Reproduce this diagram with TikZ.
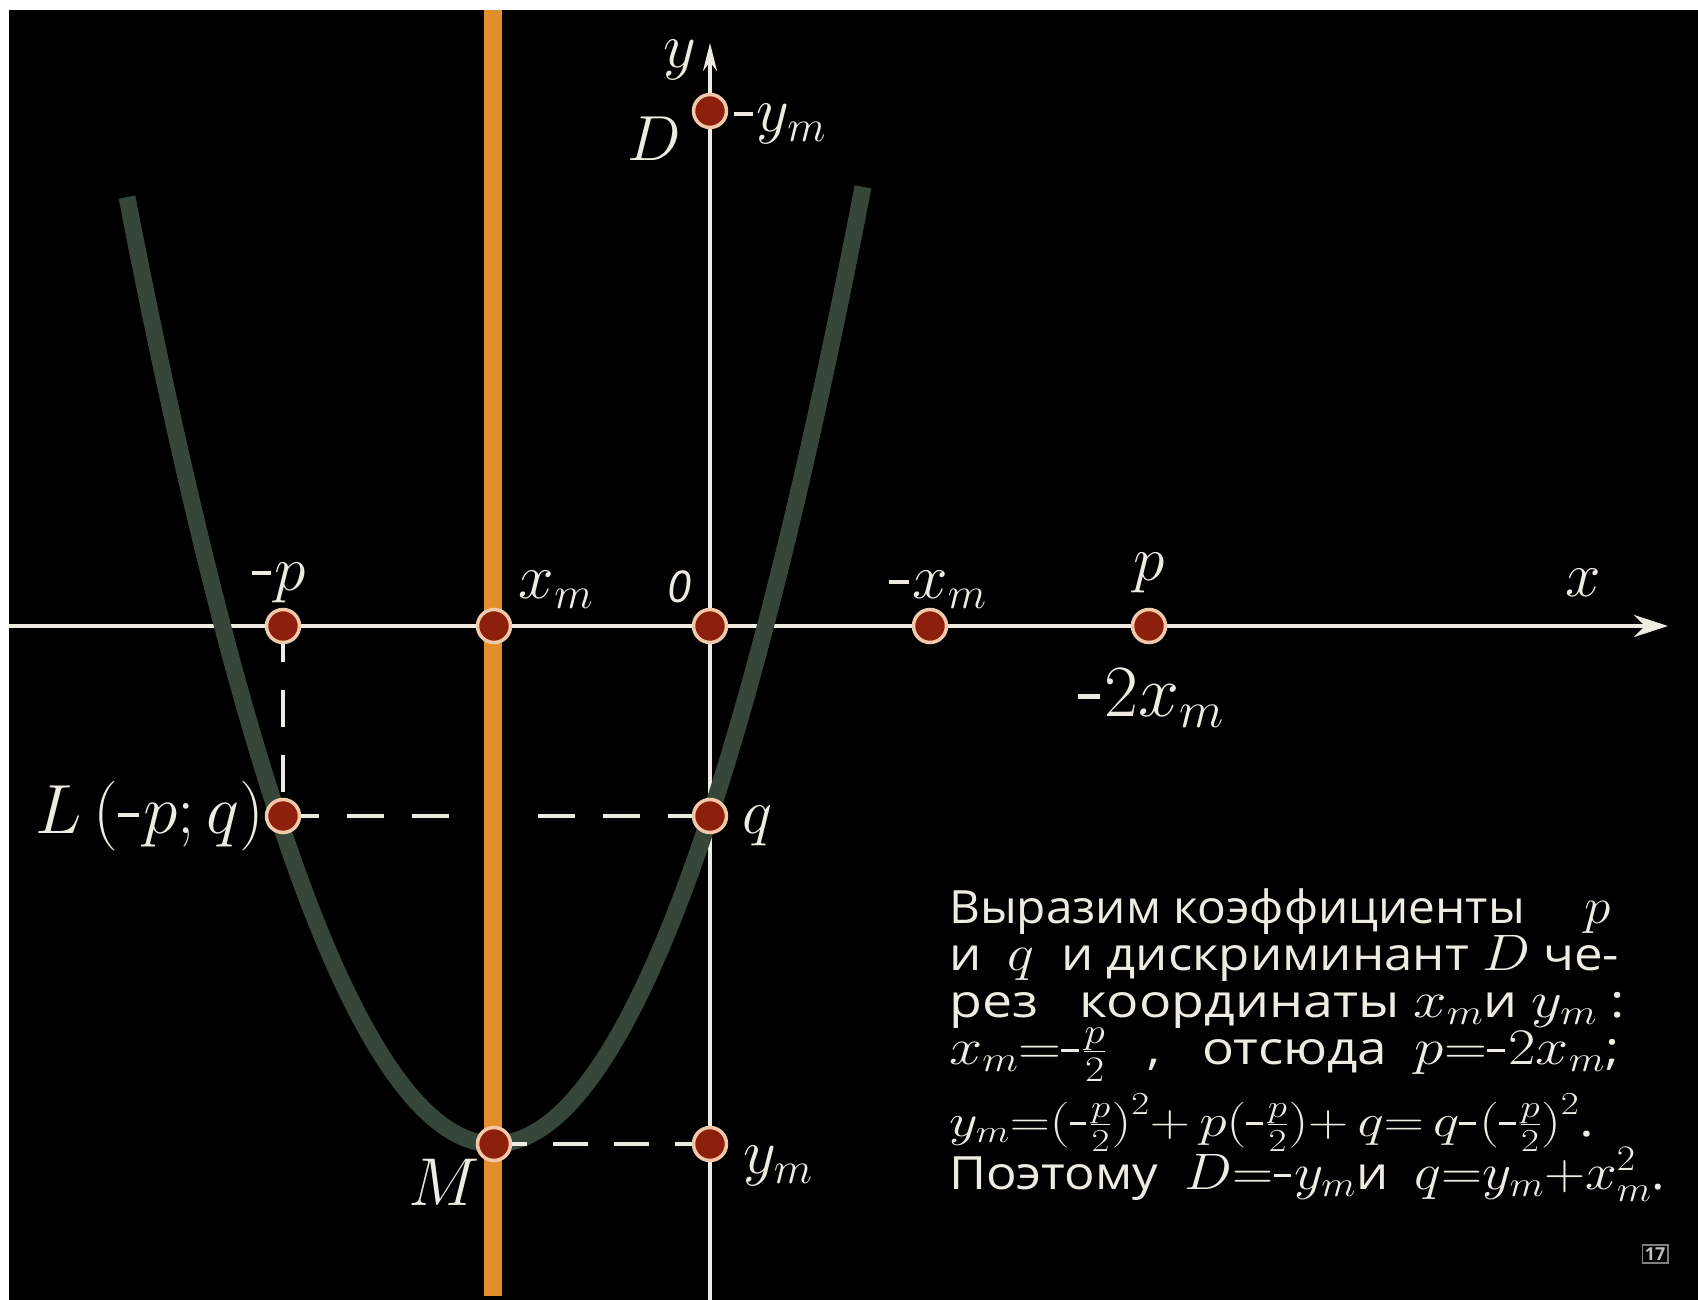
\RequirePackage{fix-cm}
\documentclass[tikz,border=0pt]{standalone}
\usepackage{fontspec}
\usepackage{graphicx}
\setmainfont{Open Sans}
\usetikzlibrary{arrows.meta}
\definecolor{axiswhite}{RGB}{238,236,226}
\definecolor{orangeln}{RGB}{226,142,42}
\definecolor{parab}{RGB}{54,70,58}
\definecolor{dotred}{RGB}{140,32,12}
\definecolor{dotring}{RGB}{242,200,170}
\newcommand{\hy}{\rule[0.24em]{0.3em}{0.06em}\kern0.06em}
\newcommand{\mth}[1]{\scalebox{1.12}{$#1$}}
\newcommand{\wline}[2]{\resizebox{#1bp}{\height}{#2}}
\begin{document}
\begin{tikzpicture}[x=1bp,y=-1bp,
  dot/.style={circle, fill=dotred, draw=dotring, line width=3.5bp, minimum size=33bp, inner sep=0pt},
  lbl/.style={text=axiswhite, font=\fontsize{64}{68}\selectfont, inner sep=0pt},
  txt/.style={text=axiswhite, font=\fontsize{46}{52}\selectfont, anchor=base west, inner sep=0pt},
  dsh/.style={draw=axiswhite, line width=4bp, dash pattern=on 37bp off 28bp}]
\useasboundingbox (0,0) rectangle (1698,1300);
\fill[white] (0,0) rectangle (1698,1300);
\fill[black] (9,10) rectangle (1698,1300);
% orange symmetry line
\draw[orangeln, line width=18bp] (493,10) -- (493,1296);
% axes
\coordinate (xs) at (9,626); \coordinate (xe) at (1668,626);
\draw[axiswhite, line width=4.5bp, -{Stealth[length=34bp,width=22bp]}] (xs) -- (xe);
\coordinate (ys) at (710,1300); \coordinate (ye) at (710,43);
\draw[axiswhite, line width=3.5bp, -{Stealth[length=28bp,width=14bp]}] (ys) -- (ye);
% parabola
\draw[parab, line width=17bp] plot[domain=127:863, samples=120, smooth] (\x,{1144-70.3*((\x-494)/100)^2});
% dots
\node[dot] (np) at (283,626) {};
\node[dot] (xm) at (494,626) {};
\node[dot] (o) at (710,626) {};
\node[dot] (mxm) at (930,626) {};
\node[dot] (pp) at (1149,626) {};
\node[dot] (L) at (283,816) {};
\node[dot] (q) at (710,816) {};
\node[dot] (M) at (494,1144) {};
\node[dot] (ym) at (710,1144) {};
\node[dot] (D) at (710,111) {};
% dashed guides
\coordinate (gl) at (455,816);
\coordinate (gr) at (538,816);
\draw[dsh, dash phase=19bp] (np) -- (L);
\draw[dsh, dash phase=19bp] (L) -- (gl);
\draw[dsh] (gr) -- (q);
\draw[dsh, dash pattern=on 35bp off 26bp, dash phase=20bp] (M) -- (ym);
% labels
\node[lbl] (lnp) at (279,583) {$\hy p$};
\node[lbl] (lxm) at (556,590) {$x_m$};
\node[lbl, font=\fontsize{44}{46}\selectfont\itshape] (lo) at (680,587) {0};
\node[lbl] (lmxm) at (938,590) {$\hy x_m$};
\node[lbl] (lpp) at (1149,573) {$p$};
\node[lbl] (lx) at (1583,583) {$x$};
\node[lbl, font=\fontsize{74}{78}\selectfont] (l2xm) at (1151,698) {$\hy 2x_m$};
\node[lbl, font=\fontsize{70}{74}\selectfont, anchor=east] (lL) at (264,816) {$L\,(\hy p;q)$};
\node[lbl] (lq) at (757,826) {$q$};
\node[lbl, font=\fontsize{68}{72}\selectfont] (lM) at (444,1182) {$M$};
\node[lbl] (lym) at (778,1166) {$y_m$};
\node[lbl] (ly) at (680,60) {$y$};
\node[lbl] (lD) at (654,139) {$D$};
\node[lbl] (lmym) at (780,124) {$\hy y_m$};
% text block
\node[txt] (t1) at (949,923) {\wline{662}{Выразим коэффициенты \quad\mth{p}}};
\node[txt] (t2) at (949,970) {\wline{670}{и \ \mth{q} \ и дискриминант \mth{D} че-}};
\node[txt] (t3) at (949,1017) {\wline{676}{рез \ \ координаты \mth{x_m}и \mth{y_m} :}};
\node[txt] (t4) at (949,1064) {\wline{670}{\mth{x_m{=}\hy\frac{p}{2}} \ \ , \ \ отсюда \ \mth{p{=}\hy 2x_m};}};
\node[txt] (t5) at (949,1136) {\wline{645}{$y_m{=}\bigl(\hy\frac{p}{2}\bigr)^2{+}\,p\bigl(\hy\frac{p}{2}\bigr){+}\,q{=}\,q\hy\bigl(\hy\frac{p}{2}\bigr)^2$.}};
\node[txt] (t6) at (949,1189) {\wline{716}{Поэтому \ \mth{D{=}\hy y_m}и \ \mth{q{=}y_m{+}x_m^2}.}};
% page number
\node[draw=gray, line width=1.5bp, text=lightgray, font=\fontsize{18}{18}\selectfont\bfseries, inner sep=2.5bp] (pg) at (1655,1254) {17};
\end{tikzpicture}
\end{document}
